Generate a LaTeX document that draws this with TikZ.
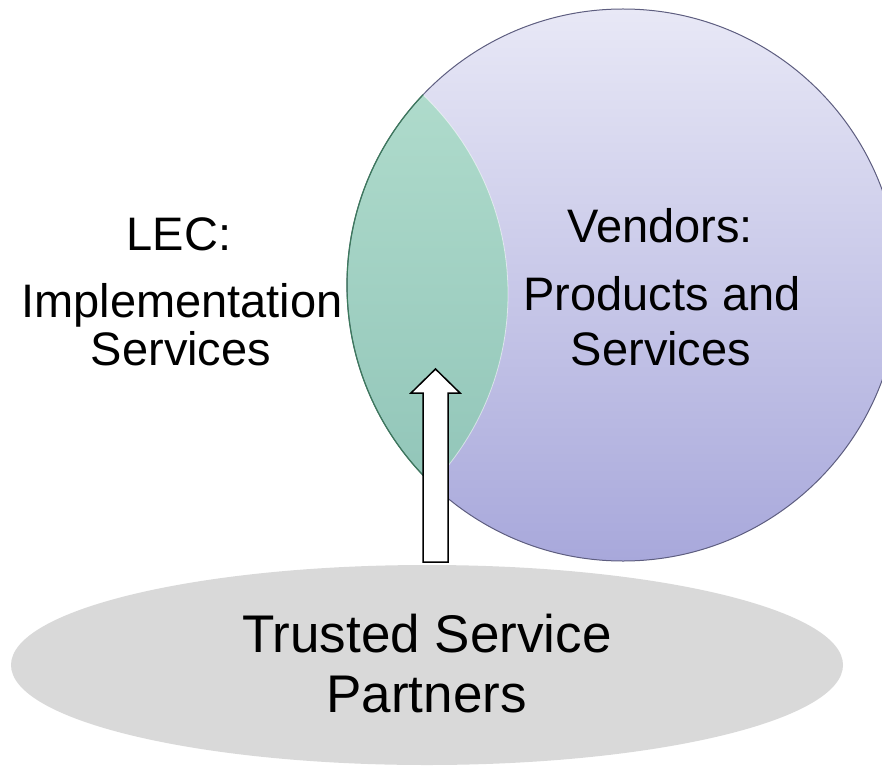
\documentclass[tikz,border=0pt]{standalone}
\usepackage{fontspec}
\setmainfont{Liberation Sans}
\usetikzlibrary{shapes.geometric,calc}

\definecolor{vendtop}{HTML}{E8E8F6}
\definecolor{vendbot}{HTML}{A8A8DB}
\definecolor{vendline}{HTML}{5E5E80}
\definecolor{lenstop}{HTML}{B4DFCF}
\definecolor{lensbot}{HTML}{8CC1B5}
\definecolor{lensline}{HTML}{3C7A5C}
\definecolor{partnerfill}{HTML}{D9D9D9}

\begin{document}
\begin{tikzpicture}[x=1pt,y=-1pt,
  setcircle/.style={circle, minimum size=552pt, inner sep=0pt},
  midtext/.style={font=\fontsize{47}{47}\selectfont, anchor=base, inner sep=0pt},
  bigtext/.style={font=\fontsize{53}{53}\selectfont, anchor=base, inner sep=0pt},
  blockarrow/.style={draw=black, fill=white, line width=1.5pt, line join=miter},
]
\useasboundingbox (0,0) rectangle (882,767);
\clip (0,0) rectangle (882,767);

% the two sets: vendors (shaded) and LEC (only its overlap is coloured)
\node (vendors) [setcircle, top color=vendtop, bottom color=vendbot] at (623,285) {};
\node (lec) [setcircle] at (232,294) {};

% overlap lens
\begin{scope}
  \clip (vendors.center) circle[radius=276];
  \path[top color=lenstop, bottom color=lensbot] (lec.center) circle[radius=276];
  \draw[white, opacity=0.55, line width=0.8pt] (lec.center) circle[radius=276];
\end{scope}

% outline of the vendors circle, green where it bounds the lens
\draw[vendline, line width=1pt] (vendors.center) circle[radius=276];
\begin{scope}
  \clip (lec.center) circle[radius=276];
  \draw[lensline, line width=1.2pt] (vendors.center) circle[radius=276];
\end{scope}

% trusted service partners
\node (partners) [ellipse, fill=partnerfill, minimum width=832pt, minimum height=200pt, inner sep=0pt] at (427,665) {};

% block arrow from the partners up into the overlap
\coordinate (foot) at (435.5,562);
\coordinate (tip) at (435.5,369);
\draw[blockarrow]
  ($(foot)+(-12.5,0)$) -- ($(tip)+(-12.5,24)$) -- ($(tip)+(-24.5,24)$) -- (tip)
  -- ($(tip)+(24.5,24)$) -- ($(tip)+(12.5,24)$) -- ($(foot)+(12.5,0)$) -- cycle;

% labels
\node (leca) [midtext] at (179,250) {LEC:};
\node (lecb) [midtext] at (182,317) {Implementation};
\node (lecc) [midtext] at (181,365) {Services};

\node (venda) [midtext] at (660,242) {Vendors:};
\node (vendb) [midtext] at (662,310) {Products and};
\node (vendc) [midtext] at (661,365) {Services};

\node (parta) [bigtext] at (427,652) {Trusted Service};
\node (partb) [bigtext] at (426.5,712) {Partners};
\end{tikzpicture}
\end{document}
